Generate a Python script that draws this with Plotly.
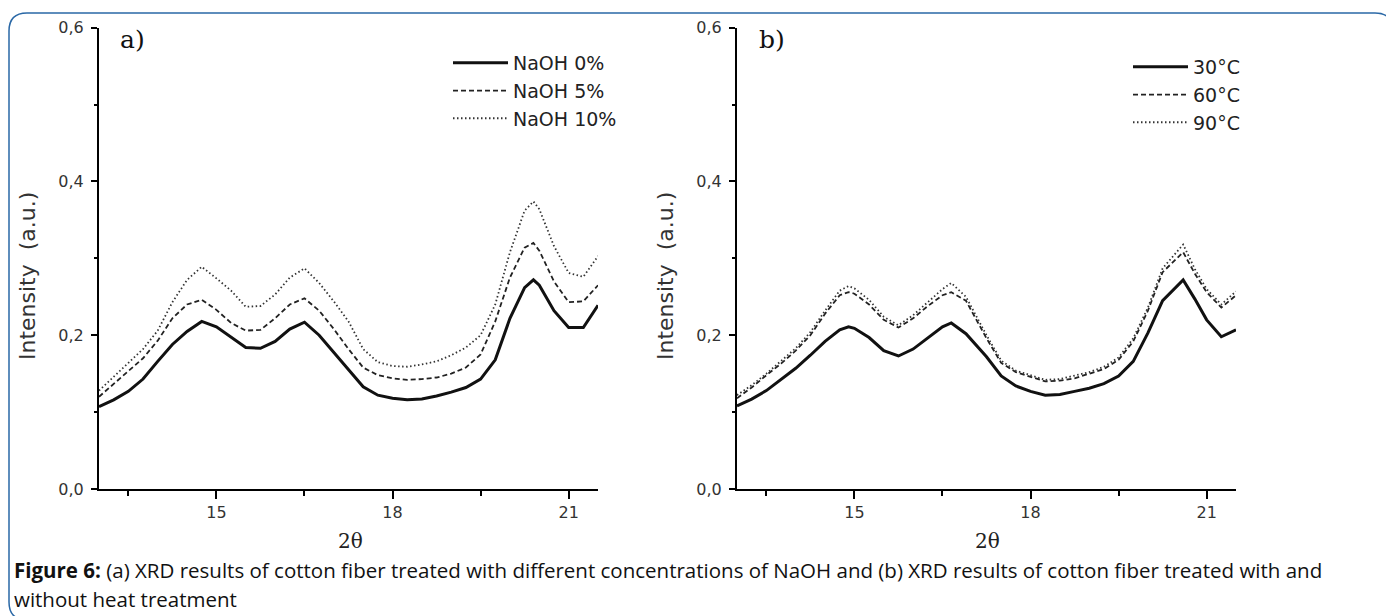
import plotly.graph_objects as go

# ---------------- data ----------------
x_a = [13.00, 13.25, 13.50, 13.75, 14.00, 14.25, 14.50, 14.75, 15.00, 15.25,
       15.50, 15.75, 16.00, 16.25, 16.50, 16.75, 17.00, 17.25, 17.50, 17.75,
       18.00, 18.25, 18.50, 18.75, 19.00, 19.25, 19.50, 19.75, 20.00, 20.25,
       20.40, 20.50, 20.75, 21.00, 21.25, 21.50]
naoh_0 = [0.107, 0.116, 0.127, 0.143, 0.166, 0.188, 0.205, 0.218, 0.211, 0.198,
          0.184, 0.183, 0.192, 0.208, 0.217, 0.200, 0.178, 0.156, 0.133, 0.122,
          0.118, 0.116, 0.117, 0.121, 0.126, 0.132, 0.143, 0.168, 0.222, 0.262,
          0.272, 0.265, 0.232, 0.210, 0.210, 0.239]
naoh_5 = [0.120, 0.137, 0.153, 0.170, 0.193, 0.222, 0.240, 0.246, 0.233, 0.216,
          0.206, 0.207, 0.222, 0.240, 0.248, 0.232, 0.208, 0.182, 0.158, 0.148,
          0.144, 0.142, 0.143, 0.145, 0.150, 0.158, 0.175, 0.218, 0.275, 0.314,
          0.320, 0.310, 0.270, 0.243, 0.244, 0.265]
naoh_10 = [0.128, 0.146, 0.163, 0.182, 0.206, 0.243, 0.272, 0.289, 0.274, 0.258,
           0.237, 0.238, 0.253, 0.275, 0.287, 0.268, 0.244, 0.218, 0.182, 0.165,
           0.160, 0.159, 0.162, 0.166, 0.174, 0.184, 0.200, 0.240, 0.308, 0.362,
           0.374, 0.364, 0.316, 0.281, 0.276, 0.303]

x_b = [13.00, 13.25, 13.50, 13.75, 14.00, 14.25, 14.50, 14.75, 14.90, 15.00,
       15.25, 15.50, 15.75, 16.00, 16.25, 16.50, 16.65, 16.90, 17.25, 17.50,
       17.75, 18.00, 18.25, 18.50, 18.75, 19.00, 19.25, 19.50, 19.75, 20.00,
       20.25, 20.60, 20.80, 21.00, 21.25, 21.50]
temp_30 = [0.108, 0.117, 0.128, 0.142, 0.157, 0.174, 0.192, 0.207, 0.211, 0.209,
           0.197, 0.180, 0.173, 0.182, 0.197, 0.211, 0.216, 0.202, 0.172, 0.147,
           0.134, 0.127, 0.122, 0.123, 0.127, 0.131, 0.137, 0.147, 0.166, 0.203,
           0.245, 0.272, 0.247, 0.220, 0.198, 0.207]
temp_60 = [0.118, 0.132, 0.148, 0.163, 0.180, 0.200, 0.228, 0.252, 0.256, 0.254,
           0.240, 0.220, 0.210, 0.222, 0.238, 0.252, 0.256, 0.245, 0.196, 0.164,
           0.152, 0.146, 0.140, 0.141, 0.144, 0.150, 0.156, 0.168, 0.192, 0.232,
           0.282, 0.308, 0.280, 0.256, 0.236, 0.252]
temp_90 = [0.122, 0.135, 0.150, 0.166, 0.183, 0.204, 0.232, 0.258, 0.264, 0.261,
           0.246, 0.224, 0.213, 0.226, 0.243, 0.260, 0.268, 0.250, 0.200, 0.167,
           0.154, 0.148, 0.142, 0.143, 0.147, 0.152, 0.159, 0.171, 0.196, 0.236,
           0.287, 0.318, 0.286, 0.260, 0.240, 0.257]

names_a = ["NaOH 0%", "NaOH 5%", "NaOH 10%"]
names_b = ["30°C", "60°C", "90°C"]

y_tickvals = [0.0, 0.2, 0.4, 0.6]
y_ticktext = ["0,0", "0,2", "0,4", "0,6"]
x_tickvals = [15, 18, 21]
x_ticktext = ["15", "18", "21"]

caption_1 = ("<b>Figure 6:</b> (a) XRD results of cotton fiber treated with different "
             "concentrations of NaOH and (b) XRD results of cotton fiber treated with and")
caption_2 = "without heat treatment"

# ---------------- layout helpers ----------------
W, H = 1394, 616
OFF = 8  # the page places the figure 8 px in from the top-left corner


def fx(p):
    return (p - OFF) / W


def fy(p):
    return 1 - (p - OFF) / H


styles = [
    dict(color="#111111", width=3.0, dash="solid"),
    dict(color="#222222", width=1.8, dash="5px,3px"),
    dict(color="#333333", width=1.8, dash="1.5px,2.5px"),
]

fig = go.Figure()
for name, ys, st in zip(names_a, [naoh_0, naoh_5, naoh_10], styles):
    fig.add_trace(go.Scatter(x=x_a, y=ys, name=name, mode="lines", line=st,
                             xaxis="x", yaxis="y", legend="legend"))
for name, ys, st in zip(names_b, [temp_30, temp_60, temp_90], styles):
    fig.add_trace(go.Scatter(x=x_b, y=ys, name=name, mode="lines", line=st,
                             xaxis="x2", yaxis="y2", legend="legend2"))

tickfont = dict(family="DejaVu Sans", size=16, color="#333333")


def xaxis(domain, anchor):
    return dict(domain=domain, anchor=anchor, range=[13, 21.5], showline=True,
                linecolor="black", linewidth=2, ticks="outside", ticklen=8,
                tickwidth=1.5, tickcolor="black", tickmode="array",
                tickvals=x_tickvals, ticktext=x_ticktext, tickfont=tickfont,
                showgrid=False, zeroline=False, automargin=False,
                minor=dict(dtick=1.5, tick0=13.5, ticks="outside", ticklen=5,
                           tickwidth=1.5, tickcolor="black", showgrid=False))


def yaxis(domain, anchor):
    return dict(domain=domain, anchor=anchor, range=[0, 0.6], showline=True,
                linecolor="black", linewidth=2, ticks="outside", ticklen=6,
                tickwidth=1.5, tickcolor="black", tickmode="array",
                tickvals=y_tickvals, ticktext=y_ticktext, tickfont=tickfont,
                ticklabelstandoff=4,
                showgrid=False, zeroline=False, automargin=False,
                minor=dict(dtick=0.1, tick0=0, ticks="outside", ticklen=3,
                           tickwidth=1.5, tickcolor="black", showgrid=False))


ydom = [fy(489), fy(27.7)]

legend_font = dict(family="DejaVu Sans", size=19, color="#222222")

annotations = []
for cx in (27, 665):
    annotations.append(dict(text="Intensity  (a.u.)", x=fx(cx), y=fy(276),
                            xref="paper", yref="paper", showarrow=False,
                            textangle=-90, xanchor="center", yanchor="middle",
                            font=dict(family="DejaVu Sans", size=22, color="#333333")))
for cx in (350, 987):
    annotations.append(dict(text="2θ", x=fx(cx), y=fy(541), xref="paper", yref="paper",
                            showarrow=False, xanchor="center", yanchor="middle",
                            font=dict(family="DejaVu Serif", size=20, color="#222222")))
for lab, cx in (("a)", 132), ("b)", 772)):
    annotations.append(dict(text=lab, x=fx(cx), y=fy(39), xref="paper", yref="paper",
                            showarrow=False, xanchor="center", yanchor="middle",
                            font=dict(family="DejaVu Serif", size=25, color="#111111")))
annotations.append(dict(text=caption_1, x=fx(12), y=fy(570), xref="paper", yref="paper",
                        showarrow=False, xanchor="left", yanchor="middle",
                        font=dict(family="Open Sans", size=20.5, color="#111111")))
annotations.append(dict(text=caption_2, x=fx(12), y=fy(599), xref="paper", yref="paper",
                        showarrow=False, xanchor="left", yanchor="middle",
                        font=dict(family="Open Sans", size=20.5, color="#111111")))

# rounded frame around the figure
x0, x1, y0, y1, r = 9, 1393, 13, 620, 18
frame = (f"M {fx(x0)},{fy(y0 + r)} Q {fx(x0)},{fy(y0)} {fx(x0 + r)},{fy(y0)} "
         f"L {fx(x1 - r)},{fy(y0)} Q {fx(x1)},{fy(y0)} {fx(x1)},{fy(y0 + r)} "
         f"L {fx(x1)},{fy(y1 - r)} Q {fx(x1)},{fy(y1)} {fx(x1 - r)},{fy(y1)} "
         f"L {fx(x0 + r)},{fy(y1)} Q {fx(x0)},{fy(y1)} {fx(x0)},{fy(y1 - r)} Z")

fig.update_layout(
    width=W, height=H, autosize=False,
    margin=dict(l=0, r=0, t=0, b=0, pad=0, autoexpand=False),
    paper_bgcolor="white", plot_bgcolor="white",
    xaxis=xaxis([fx(99), fx(598)], "y"),
    yaxis=yaxis(ydom, "x"),
    xaxis2=xaxis([fx(737), fx(1236)], "y2"),
    yaxis2=yaxis(ydom, "x2"),
    legend=dict(x=fx(448), y=fy(44), xanchor="left", yanchor="top", itemwidth=55,
                font=legend_font, bgcolor="rgba(0,0,0,0)", tracegroupgap=0),
    legend2=dict(x=fx(1128), y=fy(48), xanchor="left", yanchor="top", itemwidth=55,
                 font=legend_font, bgcolor="rgba(0,0,0,0)", tracegroupgap=0),
    annotations=annotations,
    shapes=[dict(type="path", path=frame, xref="paper", yref="paper",
                 line=dict(color="#2a68a6", width=1.5), layer="below")],
)

fig.write_html("out.html")
